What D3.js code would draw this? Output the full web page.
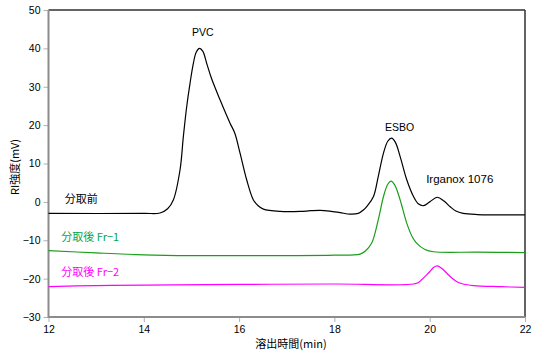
<!DOCTYPE html>
<html><head><meta charset="utf-8">
<script src="https://cdn.jsdelivr.net/npm/d3@7"></script>
<style>
html,body{margin:0;padding:0;background:#fff;}
svg{display:block;}
text{font-family:"Liberation Sans",Arial,"Noto Sans CJK JP",sans-serif;}
.jp{font-family:"Noto Sans CJK JP",sans-serif;}
</style></head>
<body><svg id="c" width="541" height="357"></svg>
<script>
const xTicks = [12,14,16,18,20,22];
const yTicks = [-30,-20,-10,0,10,20,30,40,50];

const beforeT = [12.0,14.0,14.34,14.5,14.62,14.76,14.83,14.90,14.97,15.04,15.10,15.17,15.24,15.32,15.42,15.60,15.81,15.91,16.02,16.16,16.30,16.40,16.51,16.86,17.28,17.5,17.70,17.9,18.12,18.33,18.50,18.61,18.7,18.82,18.92,19.03,19.12,19.20,19.28,19.38,19.52,19.66,19.76,19.87,20.0,20.16,20.30,20.43,20.55,20.70,21.0,22.0];
const beforeV = [-3.0,-3.0,-2.9,-1.8,0.5,8.3,17,24.8,30.9,36.1,39.0,40.0,39.2,36.1,32.2,26.6,20.5,17.9,12.7,5.7,0.5,-1.0,-1.9,-2.5,-2.5,-2.3,-2.2,-2.4,-2.8,-3.2,-3.0,-2.1,-0.9,1.4,6.6,12.7,15.8,16.6,15.5,11.8,5.7,1.4,-0.5,-1.0,0.0,1.2,0.2,-1.25,-2.4,-3.0,-3.3,-3.4];

const fr1T = [12.0,13.0,14.0,15.0,16.0,17.0,18.0,18.54,18.65,18.78,18.92,19.03,19.12,19.19,19.27,19.38,19.52,19.63,19.73,19.9,20.08,21.0,22.0];
const fr1V = [-12.7,-13.3,-13.8,-14.0,-14.0,-14.0,-13.9,-13.6,-12.8,-10.8,-4.7,1.4,4.6,5.4,4.3,0.5,-5.6,-9.0,-10.8,-12.4,-13.0,-13.1,-13.2];

const fr2T = [12.0,13.0,14.0,16.0,18.0,19.73,19.83,19.92,20.0,20.08,20.16,20.25,20.36,20.47,20.57,20.70,20.92,21.5,22.0];
const fr2V = [-22.1,-21.8,-21.7,-21.5,-21.4,-21.2,-20.3,-19.2,-18.2,-17.1,-16.7,-17.3,-18.6,-19.9,-20.8,-21.4,-21.8,-22.1,-22.3];

const peakLabels = ["PVC","ESBO","Irganox 1076"];
const peakT = [15.24,19.37,20.63];
const peakV = [43.3,18.5,4.8];

const seriesNames = ["分取前","分取後 Fr−1","分取後 Fr−2"];
const seriesColors = ["#000000","#1a9e1a","#ff00ff"];
const seriesLabelColors = ["#000000","#00a650","#ff00ff"];
const seriesLabelT = [12.34,12.27,12.27];
const seriesLabelV = [-0.3,-10.2,-19.4];

const svg = d3.select("#c");
const m = {l:48.5, r:525, t:10, b:317};
const x = d3.scaleLinear().domain([12,22]).range([m.l,m.r]);
const y = d3.scaleLinear().domain([-30,50]).range([m.b,m.t]);

// y axis
const ya = svg.append("g").attr("transform",`translate(${m.l},0)`)
  .call(d3.axisLeft(y).tickValues(yTicks).tickSize(5).tickPadding(3).tickFormat(d=>d<0?"−"+Math.abs(d):d));
ya.select(".domain").remove();
ya.selectAll(".tick line").attr("stroke","#b0b0b0");
ya.selectAll("text").attr("font-size",10.5).attr("fill","#000");

const xa = svg.append("g").attr("transform",`translate(0,${m.b})`)
  .call(d3.axisBottom(x).tickValues(xTicks).tickSize(5).tickPadding(4));
xa.select(".domain").remove();
xa.selectAll(".tick line").attr("stroke","#b0b0b0");
xa.selectAll("text").attr("font-size",10.5).attr("fill","#000");

// frame
svg.append("line").attr("x1",m.l).attr("x2",m.r).attr("y1",m.t).attr("y2",m.t).attr("stroke","#303030").attr("stroke-width",1.5);
svg.append("line").attr("x1",m.r).attr("x2",m.r).attr("y1",m.t).attr("y2",m.b).attr("stroke","#303030").attr("stroke-width",1.5);
svg.append("line").attr("x1",m.l).attr("x2",m.l).attr("y1",m.t).attr("y2",m.b+1).attr("stroke","#8c8c8c").attr("stroke-width",2);
svg.append("line").attr("x1",m.l).attr("x2",m.r).attr("y1",m.b).attr("y2",m.b).attr("stroke","#8c8c8c").attr("stroke-width",2);

const line = d3.line().x(d=>x(d[0])).y(d=>y(d[1])).curve(d3.curveCatmullRom.alpha(0.5));
const all = [[fr2T,fr2V],[fr1T,fr1V],[beforeT,beforeV]];
const cols = [seriesColors[2],seriesColors[1],seriesColors[0]];
all.forEach((s,i)=>{
  svg.append("path").datum(d3.zip(s[0],s[1])).attr("d",line)
    .attr("fill","none").attr("stroke",cols[i]).attr("stroke-width",1.2);
});

// peak labels
peakLabels.forEach((t,i)=>{
  svg.append("text").attr("x",x(peakT[i])).attr("y",y(peakV[i])).attr("text-anchor","middle")
    .attr("font-size",i==2?11.5:10.5).attr("fill","#000").text(t);
});

// series labels
seriesNames.forEach((t,i)=>{
  svg.append("text").attr("class","jp").attr("x",x(seriesLabelT[i])).attr("y",y(seriesLabelV[i]))
    .attr("font-size",11).attr("fill",seriesLabelColors[i]).text(t);
});

// axis titles
svg.append("text").attr("class","jp").attr("x",291).attr("y",348).attr("text-anchor","middle")
  .attr("font-size",11).attr("fill","#000").text("溶出時間(min)");
svg.append("text").attr("class","jp").attr("transform","translate(19,167) rotate(-90)").attr("text-anchor","middle")
  .attr("font-size",11).attr("fill","#000").text("RI強度(mV)");
</script></body></html>
